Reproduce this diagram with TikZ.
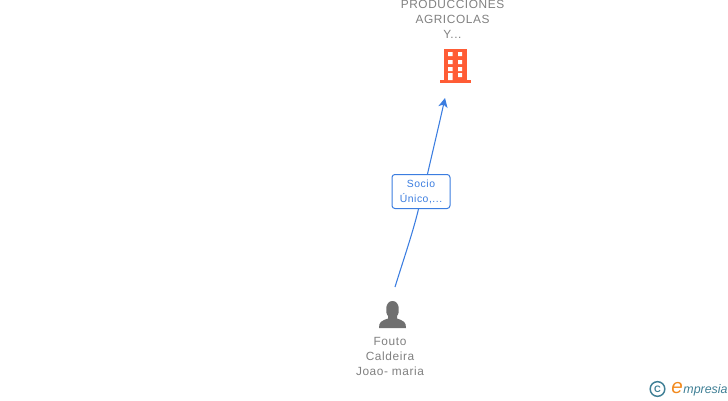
\documentclass[tikz,border=0pt]{standalone}
\usepackage{fontspec}
\setmainfont{Liberation Sans}
\newfontfamily\spaced[LetterSpace=5]{Liberation Sans}
\usepackage{tikz}
\usetikzlibrary{arrows.meta}
\definecolor{linkblue}{HTML}{3B7DE0}
\definecolor{labelgray}{HTML}{808080}
\definecolor{firmorange}{HTML}{FF5C35}
\definecolor{persongray}{HTML}{707070}
\definecolor{markteal}{HTML}{3F7F95}
\definecolor{markorange}{HTML}{F28A1E}
\tikzset{
    caption/.style={text=labelgray, font=\spaced\fontsize{8.9pt}{11.25pt}\selectfont, align=center, inner sep=0pt},
    rolebox/.style={draw=linkblue, line width=0.75pt, rounded corners=2.2pt, fill=white, text=linkblue, minimum width=43.5pt, minimum height=25.5pt, inner sep=0pt, align=center, font=\spaced\fontsize{7.8pt}{11.4pt}\selectfont},
    link/.style={draw=linkblue, line width=0.8pt},
}
\begin{document}
\begin{tikzpicture}[x=0.75pt, y=-0.75pt]
    \useasboundingbox (0,0) rectangle (728,400);

    % company
    \node[caption] (firm) at (452.5,19.5) {PRODUCCIONES\\AGRICOLAS\\Y...};
    \coordinate (firmlow) at (445,98);
    \fill[firmorange] (444,49) rectangle (467,80);
    \fill[firmorange] (439.5,80) rectangle (471,83);
    \foreach \y in {52,60,67}
        \fill[white] (448,\y) rectangle (452.5,\y+4) (458,\y) rectangle (462,\y+4);
    \fill[white] (448,73) rectangle (452.5,80) (458,73) rectangle (462,77);

    % person
    \fill[persongray] (379,328) .. controls (379,322) and (381,321) .. (388,318.5) -- (388,316) .. controls (385,313) and (385,301) .. (392.5,301) .. controls (400,301) and (400,313) .. (397,316) -- (397,318.5) .. controls (404,321) and (406,322) .. (406,328) -- cycle;
    \node[caption] (person) at (390,356.5) {Fouto\\Caldeira\\Joao- maria};
    \coordinate (personup) at (395,287);

    % link
    \node[rolebox] (role) at (421,191.5) {Socio\\Único,...};
    \draw[link] (personup) .. controls (404,258) and (413,232) .. (role.south -| 418.5,0);
    \draw[link, -{Stealth[length=7pt, width=7pt, inset=2pt]}] (role.north -| 427.5,0) .. controls (433,150) and (439,125) .. (firmlow);

    % logo
    \node[circle, draw=markteal, line width=1.1pt, text=markteal, minimum size=11pt, inner sep=0pt, font=\bfseries\fontsize{7pt}{7pt}\selectfont] (copy) at (657.5,389) {C};
    \node[text=markorange, inner sep=0pt, font=\itshape\fontsize{15.5pt}{15.5pt}\selectfont] (mark) at (677,388.5) {e};
    \node[text=markteal, inner sep=0pt, font=\itshape\fontsize{9.3pt}{10pt}\selectfont] (name) at (705.5,390) {mpresia};
\end{tikzpicture}
\end{document}
